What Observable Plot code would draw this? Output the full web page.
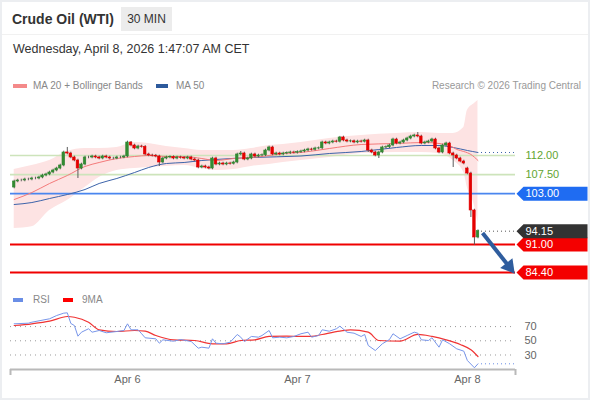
<!DOCTYPE html>
<html>
<head>
<meta charset="utf-8">
<script src="https://cdn.jsdelivr.net/npm/d3@7"></script>
<script src="https://cdn.jsdelivr.net/npm/@observablehq/plot@0.6"></script>
<style>
html,body{margin:0;padding:0;background:#fff;}
#wrap{position:relative;width:590px;height:400px;overflow:hidden;font-family:"Liberation Sans",Arial,sans-serif;color:#333;background:#fff;}
.abs{position:absolute;white-space:nowrap;}
#frame{position:absolute;left:0;top:0;width:590px;height:400px;box-sizing:border-box;border:2px solid #eceef1;pointer-events:none;}
#sep{position:absolute;left:2px;top:34px;width:586px;height:1px;background:#f1f1f1;}
#title{left:12px;top:12px;font-size:14px;line-height:14px;font-weight:bold;color:#333;}
#badge{left:121px;top:7px;width:51px;height:24px;background:#ececec;font-size:12px;line-height:24px;text-align:center;color:#333;}
#date{left:13px;top:43px;font-size:12.5px;line-height:12.5px;color:#333;}
.leg{font-size:10px;line-height:10px;color:#888;top:81px;}
.sw{position:absolute;height:4px;}
#main{position:absolute;left:0;top:95px;}
#rsi{position:absolute;left:0;top:305px;}
</style>
</head>
<body>
<div id="wrap">
  <div id="title" class="abs">Crude Oil (WTI)</div>
  <div id="badge" class="abs">30 MIN</div>
  <div id="sep"></div>
  <div id="date" class="abs">Wednesday, April 8, 2026 1:47:07 AM CET</div>
  <div class="sw" style="left:13px;top:84px;width:14px;background:#f48a8a"></div>
  <div class="abs leg" style="left:33px">MA 20 + Bollinger Bands</div>
  <div class="sw" style="left:156px;top:84px;width:12px;background:#2d5a9c"></div>
  <div class="abs leg" style="left:176px">MA 50</div>
  <div class="abs leg" style="right:9px;color:#999">Research © 2026 Trading Central</div>
  <div id="main"></div>
  <div class="sw" style="left:13px;top:298px;width:10px;background:#6a8ee6"></div>
  <div class="abs leg" style="left:33px;top:295px">RSI</div>
  <div class="sw" style="left:63px;top:298px;width:10px;background:#f00"></div>
  <div class="abs leg" style="left:82px;top:295px">9MA</div>
  <div id="rsi"></div>
  <div id="frame"></div>
</div>
<script>
// ---------------- data (30-min bars, index 0..131) ----------------
const closes = [
105.87,106.10,106.10,106.34,106.34,106.58,106.58,106.81,107.28,107.52,
107.99,108.46,108.93,109.64,112.71,112.47,111.53,110.82,108.93,109.88,
111.53,111.53,111.76,111.53,111.29,111.76,111.53,111.29,111.29,111.53,
111.53,111.76,115.07,114.36,113.65,114.12,114.05,112.24,112.00,111.95,
111.76,110.35,111.29,111.53,111.60,111.29,111.53,111.45,111.29,111.53,
111.06,110.82,109.17,109.41,109.17,108.93,111.29,109.88,110.11,109.88,
110.11,110.05,110.35,112.24,112.47,111.06,111.29,112.24,111.76,112.00,
112.05,113.18,113.89,112.24,112.47,112.24,112.47,112.55,112.71,112.65,
112.80,112.94,113.18,113.42,113.35,113.65,113.70,115.07,114.83,115.07,
115.30,115.25,116.25,115.54,115.30,115.35,115.07,115.30,115.25,115.54,
113.18,112.71,112.00,112.71,113.89,113.95,114.36,115.77,114.83,115.07,
115.54,116.01,116.48,116.72,116.48,114.83,115.07,115.30,115.77,113.65,
112.71,114.36,114.83,112.47,112.00,111.29,110.58,110.11,107.75,99.03,
92.66,94.15
];
const firstOpen = 104.45;
const openGaps = [[128, 108.93]];
const wickHighs = [[15,113.89],[33,115.30],[64,112.94],[92,116.50],[114,117.42]];
const wickLows = [[18,106.58],[41,109.41],[100,112.71],[103,111.29],[124,109.17],[129,97.38],[130,90.85]];

const ma20Idx = [0,5,10,15,20,24,29,34,38,43,48,53,57,62,67,72,76,81,89,98,108,116,120,123,125,127,129,131];
const ma20Val = [101.62,103.27,105.40,107.28,109.41,110.35,111.29,111.76,112.00,111.76,111.76,111.29,110.82,111.29,111.53,112.00,112.47,112.71,113.65,114.59,114.83,115.07,114.83,114.36,113.42,112.94,112.24,110.82];

const ma50Idx = [0,5,10,15,20,24,29,34,38,43,48,53,57,67,81,89,98,108,115,120,124,128,131];
const ma50Val = [100.44,100.91,101.86,102.80,103.98,105.40,106.58,107.99,109.17,110.11,110.35,110.82,111.06,111.53,111.88,112.47,112.94,113.89,114.36,114.36,113.89,113.18,112.71];

const bbIdx   = [0,5,10,15,20,24,29,34,38,43,48,53,57,62,67,72,76,81,89,98,108,115,120,124,127,128,130,131];
const bbUpper = [108.70,109.64,110.82,112.94,113.65,113.65,113.89,115.07,114.83,114.12,113.65,113.18,113.18,113.18,113.65,114.36,114.59,115.07,116.01,116.72,117.19,117.42,117.19,117.19,118.60,122.61,124.26,124.97];
const bbLower = [94.78,95.20,99.03,101.39,104.45,106.81,108.46,108.93,109.17,109.41,109.64,108.93,108.46,108.70,109.41,109.88,110.35,110.82,111.53,112.47,112.71,112.71,112.47,110.82,107.99,104.45,100.21,96.20];

const rsiIdx = [0,4,5,10,12,14,15,16,17,18,19,21,22,24,26,29,31,32,33,35,36,37,40,41,42,45,47,50,52,53,55,56,57,59,61,63,64,65,67,69,70,72,73,75,77,79,81,83,84,86,87,89,91,92,94,96,98,99,100,102,104,106,107,109,111,113,114,115,117,118,120,121,123,125,127,128,130,131];
const rsiVal = [73.9,74.8,76.2,81.0,85.6,88.9,89.4,74.4,71.5,56.5,62.1,66.9,62.1,64.5,61.3,63.1,64.5,73.9,65.5,65.5,59.9,54.2,52.8,46.6,51.4,49.4,51.8,49.0,39.6,41.0,39.6,52.8,46.6,45.8,48.0,58.9,55.1,49.0,56.1,55.1,57.5,64.5,54.2,55.1,54.2,56.1,59.9,62.1,55.1,57.5,65.5,63.5,66.9,70.6,62.1,60.7,56.1,58.9,43.4,36.3,45.8,51.8,59.9,52.8,57.5,62.1,60.7,51.4,50.4,54.2,41.0,51.4,45.8,38.7,35.4,22.3,12.0,17.6];

const ma9Idx = [0,5,10,15,17,21,24,29,34,37,40,45,51,56,60,64,68,72,77,81,84,87,92,95,100,103,109,114,118,122,126,129,131];
const ma9Val = [71.5,73.9,77.6,84.2,83.2,76.2,65.5,63.1,64.5,63.5,57.5,51.4,50.4,45.8,45.8,50.4,51.4,56.1,56.5,56.1,56.1,58.9,63.5,65.5,62.1,50.4,49.4,58.9,56.1,51.4,44.8,37.3,27.9];

const levelValues = [112.00, 107.50, 103.00, 91.00, 84.40];
const levelKinds  = ["resistance", "resistance", "pivot", "support", "support"];
const lastPrice = 94.15;
const rsiLevels = [70, 50, 30];
const dayTickIdx = [32, 80, 128];
const dayTickLabels = ["Apr 6", "Apr 7", "Apr 8"];
const arrowFrom = [132.3, 93.7];
const arrowTo = [139.8, 85.8];

// ---------------- tables ----------------
const hiMap = new Map(wickHighs), loMap = new Map(wickLows), gapMap = new Map(openGaps);
const WICK = 0.3;
const candles = closes.map((c, i) => {
  const o = gapMap.has(i) ? gapMap.get(i) : (i === 0 ? firstOpen : closes[i - 1]);
  const h = hiMap.has(i) ? hiMap.get(i) : Math.max(o, c) + WICK;
  const l = loMap.has(i) ? loMap.get(i) : Math.min(o, c) - WICK;
  return {i, o, c, h, l, up: c >= o};
});
const zip = (xs, vs) => xs.map((x, k) => ({i: x, v: vs[k]}));
const ma20 = zip(ma20Idx, ma20Val);
const ma50 = zip(ma50Idx, ma50Val);
const rsi = zip(rsiIdx, rsiVal);
const ma9 = zip(ma9Idx, ma9Val);
const bb = bbIdx.map((x, k) => ({i: x, upper: bbUpper[k], lower: bbLower[k]}));
const levels = levelValues.map((v, k) => ({v, kind: levelKinds[k]}));

const GREEN = "#338a33", RED = "#e40000";
const lineColor = {resistance: "#cde4bb", pivot: "#4a86ef", support: "#f00000"};
const lineWidth = {resistance: 1.6, pivot: 1.6, support: 2};
const tagColor = {pivot: "#1f6cf2", support: "#f40000", last: "#333333"};
const tags = levels.filter(d => d.kind !== "resistance").map(d => ({v: d.v, fill: tagColor[d.kind]}))
  .concat([{v: lastPrice, fill: tagColor.last}]);
const resLabels = levels.filter(d => d.kind === "resistance");

const tagSymbol = {draw(ctx) {
  ctx.moveTo(0, 0); ctx.lineTo(7, -7); ctx.lineTo(71, -7); ctx.lineTo(71, 7); ctx.lineTo(7, 7); ctx.closePath();
}};

const xDomain = [-1.045, 141.6];
const lastIdx = closes.length - 1;
const font = {fontFamily: "'Liberation Sans', Arial, sans-serif", fontSize: "11px", background: "transparent", overflow: "visible"};

const main = Plot.plot({
  width: 590, height: 190,
  marginLeft: 10, marginRight: 75, marginTop: 0, marginBottom: 0,
  x: {domain: xDomain, axis: null},
  y: {domain: [81.34, 126.15], axis: null},
  color: {type: "identity"},
  style: font,
  marks: [
    Plot.areaY(bb, {x: "i", y1: "lower", y2: "upper", fill: "#fde3e3", curve: "monotone-x"}),
    Plot.ruleY(levels, {y: "v", stroke: d => lineColor[d.kind], strokeWidth: d => lineWidth[d.kind]}),
    Plot.line(ma50, {x: "i", y: "v", stroke: "#3d64aa", strokeWidth: 1, curve: "monotone-x"}),
    Plot.line(ma20, {x: "i", y: "v", stroke: "#f47a7a", strokeWidth: 1, curve: "monotone-x"}),
    Plot.ruleY([ma50Val[ma50Val.length - 1]], {x1: lastIdx + 1, x2: xDomain[1], stroke: "#3d64aa", strokeDasharray: "1,3"}),
    Plot.ruleY([lastPrice], {x1: lastIdx + 1, x2: xDomain[1], stroke: "#555", strokeDasharray: "1,3"}),
    Plot.ruleX(candles, {x: "i", y1: "l", y2: "h", stroke: "#5a5a5a", strokeWidth: 1}),
    Plot.rect(candles, {x1: d => d.i - 0.36, x2: d => d.i + 0.36, y1: "o", y2: "c",
      fill: d => d.up ? GREEN : RED, stroke: d => d.up ? GREEN : RED, strokeWidth: 0.6}),
    Plot.link([{a: arrowFrom, b: arrowTo}], {x1: d => d.a[0], y1: d => d.a[1], x2: d => d.b[0], y2: d => d.b[1],
      stroke: "#2f5d9e", strokeWidth: 4}),
    Plot.dot([arrowTo], {x: d => d[0], y: d => d[1], symbol: "triangle", r: 5.8, fill: "#2f5d9e", rotate: 141.7}),
    Plot.dot(tags, {y: "v", frameAnchor: "right", dx: 1, symbol: tagSymbol, r: 5, fill: "fill"}),
    Plot.text(tags, {y: "v", text: d => d.v.toFixed(2), frameAnchor: "right", dx: 10, textAnchor: "start", fill: "white", fontSize: 11}),
    Plot.text(resLabels, {y: "v", text: d => d.v.toFixed(2), frameAnchor: "right", dx: 10, textAnchor: "start", fill: "#62a531", fontSize: 11})
  ]
});
document.getElementById("main").append(main);

const rsiY = [9.58, 99.7];
const rsiPlot = Plot.plot({
  width: 590, height: 89,
  marginLeft: 10, marginRight: 75, marginTop: 0, marginBottom: 25,
  x: {domain: xDomain, axis: null},
  y: {domain: rsiY, axis: null},
  style: font,
  marks: [
    Plot.ruleY(rsiLevels, {stroke: "#9a9a9a", strokeDasharray: "1,4"}),
    Plot.text(rsiLevels, {y: d => d, text: d => String(d), frameAnchor: "right", dx: 9, textAnchor: "start", fill: "#666", fontSize: 11}),
    Plot.line(ma9, {x: "i", y: "v", stroke: "#f03434", strokeWidth: 1.2, curve: "monotone-x"}),
    Plot.line(rsi, {x: "i", y: "v", stroke: "#7896ea", strokeWidth: 1}),
    Plot.ruleY([rsiVal[rsiVal.length - 1]], {x1: lastIdx + 1, x2: xDomain[1], stroke: "#6a8ee6", strokeDasharray: "1,3"}),
    Plot.ruleY([rsiY[0]], {stroke: "#b9b9b9", strokeWidth: 2}),
    Plot.ruleX(xDomain, {stroke: "#b9b9b9", strokeWidth: 2, insetTop: 64, insetBottom: -6}),
    Plot.text(dayTickIdx, {x: d => d, text: d => dayTickLabels[dayTickIdx.indexOf(d)], frameAnchor: "bottom", dy: 13, fill: "#666", fontSize: 11})
  ]
});
document.getElementById("rsi").append(rsiPlot);
</script>
</body>
</html>
